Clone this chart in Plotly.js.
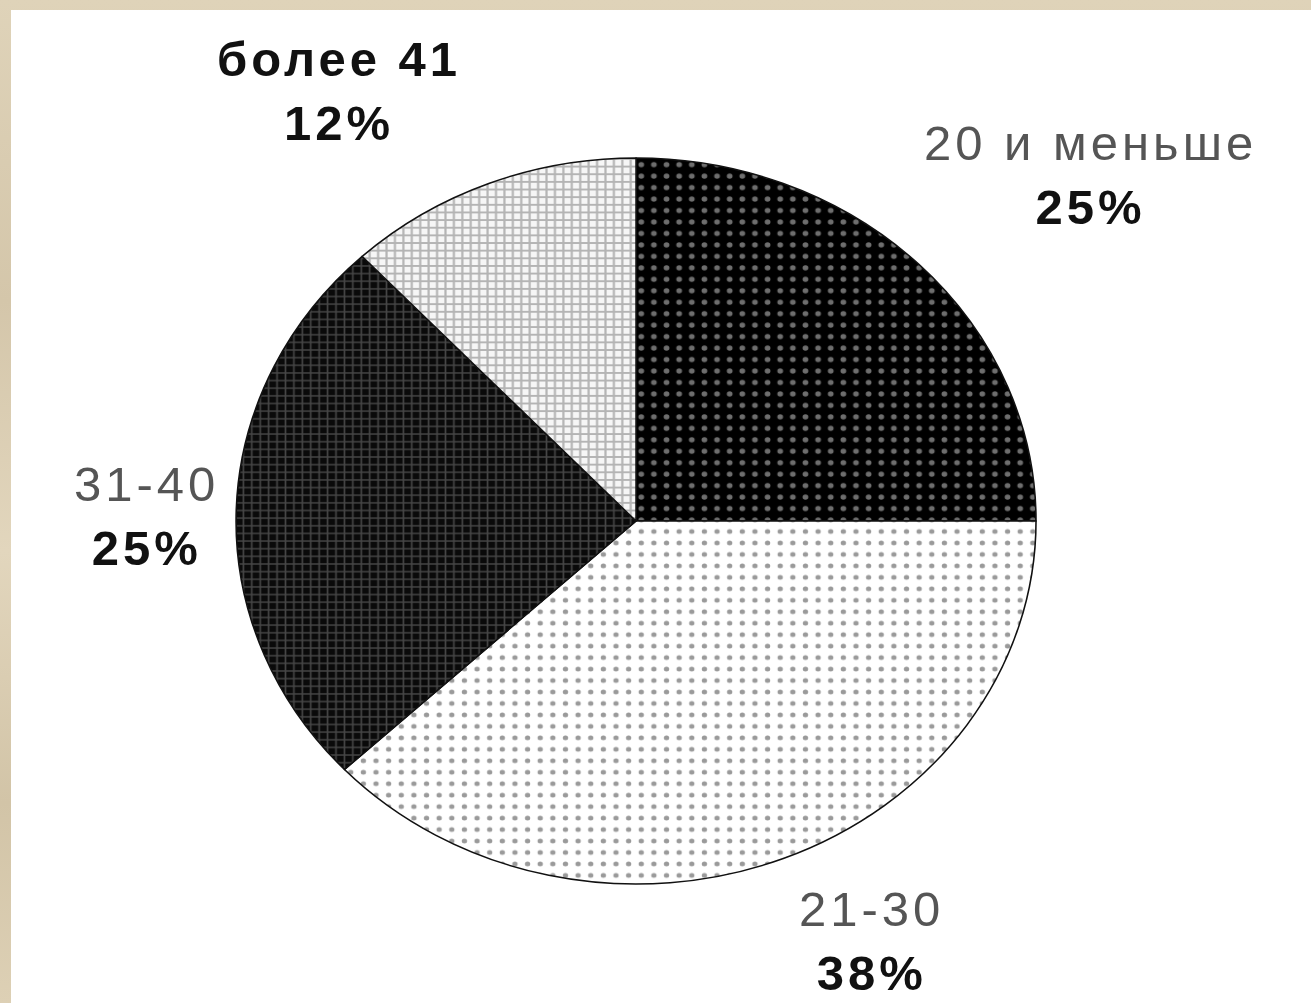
<!DOCTYPE html>
<html>
<head>
<meta charset="utf-8">
<script src="https://cdn.plot.ly/plotly-3.0.1.min.js"></script>
<style>
  html, body { margin: 0; padding: 0; width: 1311px; height: 1003px; overflow: hidden;
    background: linear-gradient(180deg, #dfd3b9 0%, #d4c6aa 30%, #e2d6bd 55%, #d2c4a7 80%, #ddd0b5 100%); }
  #chart { position: absolute; left: 11px; top: 10px; width: 1300px; height: 993px; background: #fff; }
  #chart .annotation-text { letter-spacing: 4px; }
  #chart .pielayer { transform-box: view-box; transform-origin: 625px 511px; transform: scale(1.0526, 0.9553); }
</style>
</head>
<body>
<div id="chart"></div>
<script>
// Data
const categories = ["20 и меньше", "21-30", "31-40", "более 41"];
const values = [25, 38, 25, 12];

// Slice fills (pattern styles)
const patterns = [
  {shape: ".", bgcolor: "#000000", fgcolor: "#6e6e6e", size: 12, solidity: 0.16},
  {shape: ".", bgcolor: "#ffffff", fgcolor: "#9a9a9a", size: 12, solidity: 0.14},
  {shape: "+", bgcolor: "#0a0a0a", fgcolor: "#464646", size: 8, solidity: 0.35},
  {shape: "+", bgcolor: "#f6f6f6", fgcolor: "#b4b4b4", size: 8, solidity: 0.45}
];
const fills = ["#000000", "#ffffff", "#0a0a0a", "#f6f6f6"];

// Label placement (paper coordinates) per category
const labelPos = [
  {x: 0.830, y: 0.834},
  {x: 0.6623, y: 0.062},
  {x: 0.1046, y: 0.490},
  {x: 0.2523, y: 0.918}
];

const annotations = categories.map((c, i) => {
  const bold = (i === 3);
  const first = bold ? `<b>${c}</b>` : `<span style="color:#555555">${c}</span>`;
  return {
    xref: "paper", yref: "paper",
    x: labelPos[i].x, y: labelPos[i].y,
    xanchor: "center", yanchor: "middle",
    showarrow: false,
    align: "center",
    text: first + "<br><b>" + values[i] + "%</b>",
    font: {family: "Liberation Sans, Arial, sans-serif", size: 49, color: "#111"}
  };
});

const trace = {
  type: "pie",
  labels: categories,
  values: values,
  sort: false,
  direction: "clockwise",
  rotation: 0,
  textinfo: "none",
  hoverinfo: "label+percent",
  marker: {
    colors: fills,
    pattern: {
      shape: patterns.map(p => p.shape),
      bgcolor: patterns.map(p => p.bgcolor),
      fgcolor: patterns.map(p => p.fgcolor),
      size: patterns.map(p => p.size),
      solidity: patterns.map(p => p.solidity),
      fillmode: "replace"
    },
    line: {color: "#111", width: 1.5}
  },
  domain: {x: [0.1885, 0.7731], y: [0.1027, 0.8681]}
};

const layout = {
  width: 1300, height: 993,
  margin: {l: 0, r: 0, t: 0, b: 0},
  paper_bgcolor: "#ffffff",
  showlegend: false,
  annotations: annotations
};

Plotly.newPlot("chart", [trace], layout, {displayModeBar: false, staticPlot: true});
</script>
</body>
</html>
